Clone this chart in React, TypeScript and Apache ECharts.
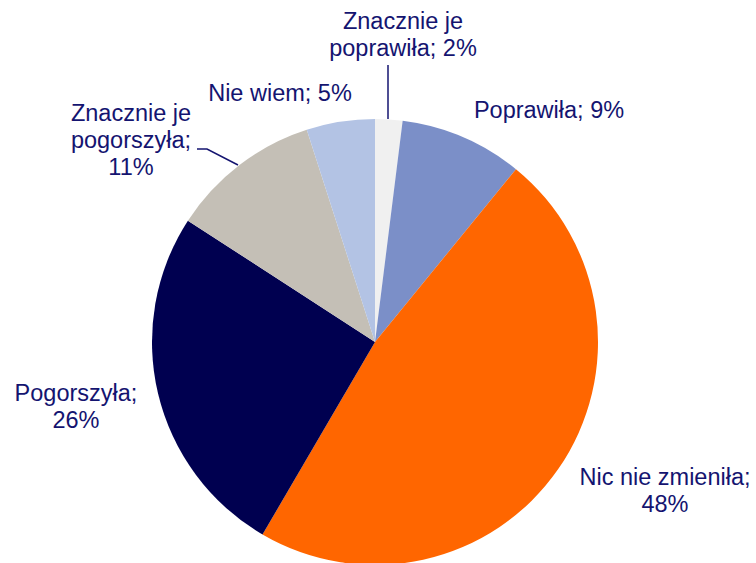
import React, { useEffect, useRef } from "react";
import * as echarts from "echarts";

const categories = [
  "Znacznie je\npoprawiła",
  "Poprawiła",
  "Nic nie zmieniła",
  "Pogorszyła",
  "Znacznie je\npogorszyła",
  "Nie wiem",
];
const values = [2, 9, 48, 26, 11, 5];
const separators = [" ", " ", "\n", "\n", "\n", " "];
const colors = ["#f0f0f0", "#7b8fc8", "#ff6600", "#000050", "#c4bfb6", "#b3c3e4"];

// label anchor positions (layout only)
const labelPos: [number, number][] = [
  [403, 34],
  [549, 110],
  [665, 490],
  [76, 406],
  [131, 140],
  [280, 93],
];

const TEXT_COLOR = "#141470";

export default function App() {
  const ref = useRef<HTMLDivElement>(null);
  useEffect(() => {
    document.body.style.margin = "0";
    const chart = echarts.init(ref.current!, undefined, { renderer: "svg" });
    chart.setOption({
      animation: false,
      backgroundColor: "#ffffff",
      series: [
        {
          type: "pie",
          center: [375, 342],
          radius: [0, 223],
          startAngle: 90,
          clockwise: true,
          data: categories.map((c, i) => ({
            name: c,
            value: values[i],
            itemStyle: { color: colors[i] },
          })),
          label: {
            show: true,
            color: TEXT_COLOR,
            fontFamily: "'Liberation Sans', Arial, sans-serif",
            fontSize: 23.5,
            lineHeight: 27,
            align: "center",
            overflow: "none",
            width: 300,
            formatter: (p: any) =>
              `${p.name};${separators[p.dataIndex]}${p.value}%`,
          },
          labelLine: { show: false },
          labelLayout: (params: any) => {
            const [x, y] = labelPos[params.dataIndex];
            return { x, y, align: "center", verticalAlign: "middle" };
          },
        },
      ],
      graphic: [
        {
          type: "line",
          shape: { x1: 388, y1: 65, x2: 388, y2: 119 },
          style: { stroke: TEXT_COLOR, lineWidth: 1.5 },
          z: 10,
        },
        {
          type: "polyline",
          shape: { points: [[197, 149], [207, 149], [238, 165]] },
          style: { stroke: TEXT_COLOR, lineWidth: 1.5, fill: "none" },
          z: 10,
        },
      ],
    });
    return () => chart.dispose();
  }, []);
  return (
    <div
      ref={ref}
      style={{ position: "absolute", left: 0, top: 0, width: 756, height: 563 }}
    />
  );
}
